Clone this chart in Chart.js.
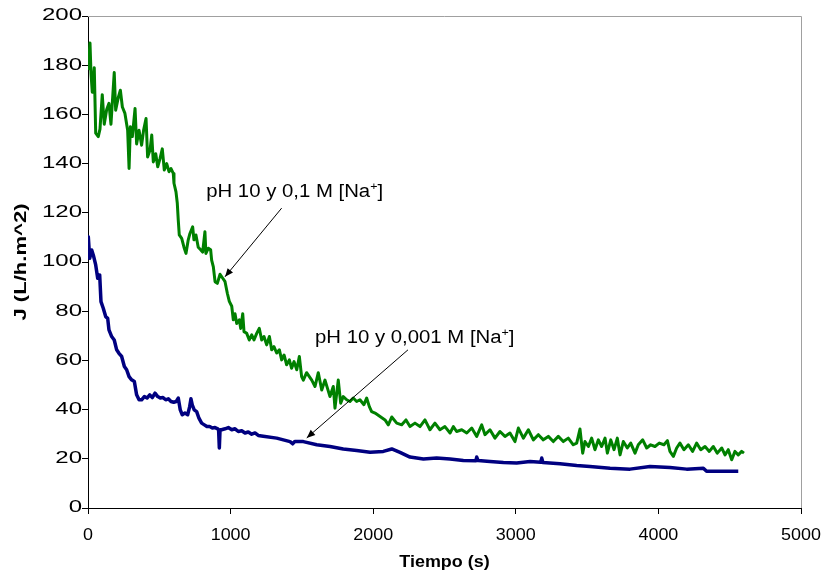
<!DOCTYPE html>
<html>
<head>
<meta charset="utf-8">
<script src="https://cdn.jsdelivr.net/npm/chart.js@4/dist/chart.umd.min.js"></script>
<style>
  body { margin: 0; background: #fff; }
  #wrap { width: 824px; height: 577px; }
</style>
</head>
<body>
<div id="wrap"><canvas id="fluxChart"></canvas></div>
<script>
// permeate flux vs time, two runs at pH 10
const xTicks = [0, 1000, 2000, 3000, 4000, 5000];
const yTicks = [0, 20, 40, 60, 80, 100, 120, 140, 160, 180, 200];
const xTitle = "Tiempo (s)";
const yTitle = "J (L/h.m^2)";

// 0,1 M Na+ run
const tGreen = [0, 14, 21, 30, 44, 54, 72, 84, 100, 114, 131, 147, 161, 184, 194, 213, 227, 241, 259, 278,
  288, 297, 311, 330, 341, 358, 376, 390, 407, 418, 435, 447, 458, 475, 489, 505, 521, 535, 552, 568,
  582, 598, 603, 617, 626, 633, 640, 657, 673, 687, 703, 715, 734, 743, 757, 773, 790, 804, 820, 827,
  844, 860, 867, 879, 891, 907, 926, 945, 961, 977, 991, 1008, 1019, 1031, 1043, 1061, 1071, 1085, 1094, 1113,
  1131, 1148, 1164, 1183, 1201, 1218, 1234, 1253, 1272, 1288, 1304, 1323, 1342, 1358, 1375, 1393, 1412, 1428, 1445, 1464,
  1482, 1498, 1510, 1533, 1569, 1592, 1615, 1639, 1662, 1697, 1720, 1732, 1755, 1772, 1790, 1814, 1837, 1860, 1884, 1907,
  1935, 1954, 1973, 1989, 2013, 2048, 2083, 2106, 2130, 2165, 2200, 2230, 2258, 2293, 2328, 2363, 2398, 2433, 2468, 2503,
  2539, 2562, 2585, 2621, 2656, 2691, 2726, 2761, 2784, 2819, 2854, 2889, 2924, 2959, 2994, 3018, 3053, 3088, 3123, 3158,
  3193, 3228, 3263, 3298, 3333, 3368, 3403, 3427, 3450, 3469, 3485, 3509, 3532, 3555, 3579, 3602, 3626, 3642, 3666, 3689,
  3712, 3731, 3754, 3782, 3806, 3836, 3859, 3890, 3918, 3946, 3976, 4006, 4039, 4063, 4081, 4105, 4128, 4151, 4179, 4210,
  4240, 4268, 4297, 4327, 4357, 4385, 4413, 4444, 4467, 4490, 4514, 4537, 4560, 4584, 4600];
const jGreen = [178, 189, 176.7, 169, 179, 152.4, 151, 154, 168, 156, 162, 164.5, 156, 177, 161.7, 167, 169.8, 163, 160.4, 153.6,
  138, 155, 151, 162.4, 148, 153.6, 147.5, 153.6, 158.3, 142.7, 145.5, 151.6, 140.7, 144, 138.7, 142, 146, 137.4, 140, 136.7,
  138, 136, 132, 128.5, 124, 117, 111, 109.6, 106, 103.5, 109, 111.6, 114.3, 109, 111, 106, 105, 104, 112.3, 103.5,
  105.6, 105, 100.8, 98, 92, 91.3, 95, 93.4, 92, 87.3, 84, 82, 76.5, 79, 75, 76.5, 73, 79, 71.7, 71,
  68.3, 70.4, 68.3, 71, 73, 68.3, 69.7, 66.3, 69.7, 64.3, 65.6, 63, 64.3, 60.2, 62.2, 58.2, 60.2, 56.8, 59.5, 56.2,
  61.6, 53.4, 52, 55, 52, 49.4, 55, 48, 52, 45.3, 49.4, 40.6, 52, 42.6, 45.3, 44, 43.3, 44.7, 43.3, 44,
  42, 44.7, 41.2, 39.2, 38.6, 37.2, 35.8, 33.8, 37, 34.5, 33.8, 35.8, 33.1, 34.5, 33.1, 35.8, 31.8, 34.5, 31.8, 33.1,
  30.5, 33.1, 31.1, 31.8, 30.5, 32.5, 29.1, 33.8, 29.8, 31.8, 28.4, 31.1, 29.1, 30.5, 27, 32.5, 28.4, 31.8, 27.7, 29.8,
  27.7, 29.1, 27, 29.1, 27, 28.4, 25.7, 26.4, 32.1, 22.3, 27, 25, 28.4, 23.7, 27.7, 25, 28.4, 22.3, 27.7, 23.7,
  28.4, 21.6, 27, 24.4, 26.4, 22.3, 25.7, 27.7, 24.4, 25.7, 25, 26.4, 25.7, 27.4, 23, 21, 24.4, 26.4, 23.7, 25.7,
  23, 26.4, 23.7, 25, 23, 25, 22.3, 24.4, 21.6, 23.7, 19.6, 23, 21.6, 23, 22.3];

// 0,001 M Na+ run
const tBlue = [0, 2, 12, 26, 40, 54, 68, 82, 91, 107, 124, 138, 147, 166, 184, 201, 217, 236, 255, 271,
  288, 306, 325, 341, 358, 376, 395, 414, 433, 451, 470, 489, 507, 526, 545, 563, 582, 601, 619, 633,
  647, 661, 680, 699, 713, 722, 731, 745, 762, 778, 797, 816, 834, 853, 872, 891, 910, 916, 921, 926,
  937, 961, 984, 1008, 1031, 1054, 1078, 1101, 1124, 1148, 1171, 1194, 1229, 1323, 1417, 1435, 1450, 1510, 1604, 1697,
  1790, 1884, 1978, 2071, 2130, 2188, 2258, 2352, 2445, 2539, 2632, 2720, 2726, 2735, 2819, 2913, 3006, 3100, 3175, 3182,
  3190, 3310, 3427, 3520, 3661, 3801, 3941, 4081, 4198, 4315, 4338, 4432, 4560];
const jBlue = [106, 110.3, 101.5, 104.9, 102.2, 98.8, 93.4, 94.7, 83.9, 81.2, 77.8, 77.1, 72.4, 69.7, 68.3, 64.3, 62.9, 61.6, 57.5, 56.2,
  53.4, 52.1, 51.4, 46, 44, 44, 45.3, 44.7, 46, 44.9, 46.7, 45.3, 44.7, 44.9, 44, 44.4, 43.3, 43, 43.3, 44.7,
  39.9, 37.9, 38.6, 37.9, 41.2, 44.4, 41.9, 39.9, 39.2, 36.5, 34.5, 33.8, 33.1, 33.1, 32.5, 32.7, 32.2, 31.5, 24.4, 31.8,
  31.8, 32.2, 32.7, 31.8, 32.2, 31.1, 31.4, 30.5, 30.9, 30, 30.5, 29.5, 29.2, 28.4, 27, 26.1, 27, 27, 25.7, 25,
  24, 23.4, 22.7, 23, 24, 22.6, 20.7, 19.9, 20.3, 19.9, 19.3, 19.2, 20.7, 19.3, 18.9, 18.5, 18.3, 18.9, 18.6, 20.3,
  18.5, 18, 17.3, 16.9, 16.2, 15.8, 16.9, 16.5, 15.8, 16.2, 14.9, 14.9, 14.9];

// callouts: text anchor and arrow, in data units
const notes = [
  { label: "pH 10 y 0,1 M [Na", tx: 829, ty: 126.3, from: [1358, 121.9], to: [961, 94.0] },
  { label: "pH 10 y 0,001 M [Na", tx: 1592, ty: 67, from: [2244, 64.3], to: [1534, 28.5] }
];

function zip(xs, ys) {
  return xs.map((x, i) => ({ x: x, y: ys[i] }));
}

const FONT = "'Liberation Sans', Arial, sans-serif";

// text drawn wider than the font's natural width
function wideText(ctx, str, x, y, sx, align) {
  ctx.save();
  ctx.translate(x, y);
  ctx.scale(sx, 1);
  ctx.textAlign = align;
  ctx.fillText(str, 0, 0);
  ctx.restore();
  return ctx.measureText(str).width * sx;
}

const frame = {
  id: "frame",
  beforeDatasetsDraw(chart) {
    const a = chart.chartArea;
    const ctx = chart.ctx;
    ctx.save();
    ctx.strokeStyle = "#a0a0a0";
    ctx.lineWidth = 1;
    ctx.beginPath();
    ctx.moveTo(a.left, a.top + 0.5);
    ctx.lineTo(a.right + 0.5, a.top + 0.5);
    ctx.lineTo(a.right + 0.5, a.bottom);
    ctx.stroke();
    ctx.restore();
  }
};

const axisText = {
  id: "axisText",
  afterDraw(chart) {
    const xs = chart.scales.x, ys = chart.scales.y;
    const a = chart.chartArea;
    const ctx = chart.ctx;
    ctx.save();
    ctx.fillStyle = "#000";
    ctx.font = "16px " + FONT;
    ctx.textBaseline = "middle";
    xs.ticks.forEach(t => {
      wideText(ctx, String(t.value), xs.getPixelForValue(t.value), 536, 1.12, "center");
    });
    ys.ticks.forEach(t => {
      wideText(ctx, String(t.value), 82, ys.getPixelForValue(t.value), 1.5, "right");
    });
    ctx.font = "bold 16px " + FONT;
    ctx.textBaseline = "alphabetic";
    wideText(ctx, xTitle, (a.left + a.right) / 2, 567, 1.12, "center");
    // rotated title, stretched along its reading direction
    ctx.save();
    ctx.translate(26, (a.top + a.bottom) / 2);
    ctx.rotate(-Math.PI / 2);
    wideText(ctx, yTitle, 0, 0, 1.38, "center");
    ctx.restore();
    ctx.restore();
  }
};

const callouts = {
  id: "callouts",
  afterDatasetsDraw(chart) {
    const xs = chart.scales.x, ys = chart.scales.y;
    const ctx = chart.ctx;
    ctx.save();
    notes.forEach(n => {
      // label with superscript +
      let px = xs.getPixelForValue(n.tx), py = ys.getPixelForValue(n.ty);
      ctx.fillStyle = "#000";
      ctx.textBaseline = "alphabetic";
      ctx.font = "18px " + FONT;
      px += wideText(ctx, n.label, px, py, 1.13, "left");
      ctx.font = "11px " + FONT;
      px += wideText(ctx, "+", px, py - 7, 1.13, "left");
      ctx.font = "18px " + FONT;
      wideText(ctx, "]", px, py, 1.13, "left");

      // arrow
      const x1 = xs.getPixelForValue(n.from[0]), y1 = ys.getPixelForValue(n.from[1]);
      const x2 = xs.getPixelForValue(n.to[0]), y2 = ys.getPixelForValue(n.to[1]);
      const ang = Math.atan2(y2 - y1, x2 - x1);
      ctx.strokeStyle = "#000";
      ctx.lineWidth = 1;
      ctx.beginPath();
      ctx.moveTo(x1, y1);
      ctx.lineTo(x2, y2);
      ctx.stroke();
      ctx.beginPath();
      ctx.moveTo(x2, y2);
      ctx.lineTo(x2 - 9 * Math.cos(ang - 0.4), y2 - 9 * Math.sin(ang - 0.4));
      ctx.lineTo(x2 - 9 * Math.cos(ang + 0.4), y2 - 9 * Math.sin(ang + 0.4));
      ctx.closePath();
      ctx.fillStyle = "#000";
      ctx.fill();
    });
    ctx.restore();
  }
};

new Chart(document.getElementById("fluxChart"), {
  type: "scatter",
  data: {
    datasets: [
      {
        label: "pH 10 y 0,001 M",
        data: zip(tBlue, jBlue),
        showLine: true,
        borderColor: "#000080",
        borderWidth: 3.5,
        pointRadius: 0,
        borderJoinStyle: "round",
        tension: 0
      },
      {
        label: "pH 10 y 0,1 M",
        data: zip(tGreen, jGreen),
        showLine: true,
        borderColor: "#008000",
        borderWidth: 3,
        pointRadius: 0,
        borderJoinStyle: "round",
        tension: 0
      }
    ]
  },
  options: {
    responsive: true,
    maintainAspectRatio: false,
    animation: false,
    layout: { padding: { top: 16, right: 23, left: 0, bottom: 0 } },
    plugins: { legend: { display: false }, tooltip: { enabled: false } },
    scales: {
      x: {
        type: "linear",
        min: 0,
        max: 5000,
        afterBuildTicks: s => { s.ticks = xTicks.map(v => ({ value: v })); },
        afterFit: s => { s.height = 69; },
        border: { color: "#000", width: 1 },
        grid: { drawOnChartArea: false, color: "#000", tickLength: 6 },
        ticks: { display: false }
      },
      y: {
        min: 0,
        max: 200,
        afterBuildTicks: s => { s.ticks = yTicks.map(v => ({ value: v })); },
        afterFit: s => { s.width = 88; },
        border: { color: "#000", width: 1 },
        grid: { drawOnChartArea: false, color: "#000", tickLength: 6 },
        ticks: { display: false }
      }
    }
  },
  plugins: [frame, axisText, callouts]
});
</script>
</body>
</html>
